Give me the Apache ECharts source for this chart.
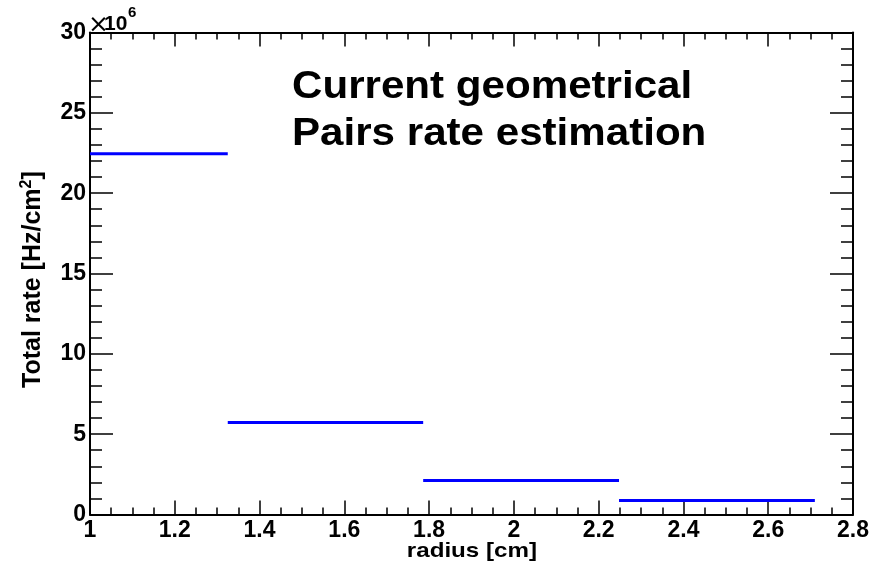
<!DOCTYPE html>
<html>
<head>
<meta charset="utf-8">
<script src="https://cdn.jsdelivr.net/npm/echarts@6/dist/echarts.min.js"></script>
<style>
  html, body { margin: 0; padding: 0; background: #fff; }
  #chart { width: 883px; height: 565px; }
</style>
</head>
<body>
<div id="chart"></div>
<script>
// Histogram bin edges along the radius [cm]
const binEdges = [1, 1.325, 1.786, 2.248, 2.71];
// Total pair rate per bin [Hz/cm^2]
const rates = [22.45e6, 5.72e6, 2.11e6, 0.87e6];
// Axis ranges and tick steps
const xRange = [1, 2.8];
const xStep = 0.2;
const yRange = [0, 30e6];
const yStep = 5e6;
const yScale = 1e6;
const titleLines = ['Current geometrical', 'Pairs rate estimation'];

const FONT = 'Liberation Sans, Arial, Helvetica, sans-serif';

const segments = rates.map((r, i) => [binEdges[i], binEdges[i + 1], r]);

const tickStyle = { color: '#000', width: 1.5 };
const labelStyle = { fontSize: 23, fontWeight: 'bold', color: '#000', fontFamily: FONT };

function xAxisDef(pos, showLabels) {
  return {
    type: 'value', position: pos, min: xRange[0], max: xRange[1], interval: xStep,
    axisLine: { show: true, onZero: false, lineStyle: { color: '#000', width: 2 } },
    axisTick: { show: true, inside: true, length: 14, lineStyle: tickStyle },
    minorTick: { show: true, splitNumber: 4, length: 7, lineStyle: tickStyle },
    splitLine: { show: false },
    axisLabel: Object.assign({ show: showLabels, margin: 5,
      formatter: v => String(Math.round(v * 10) / 10) }, labelStyle)
  };
}
function yAxisDef(pos, showLabels) {
  return {
    type: 'value', position: pos, min: yRange[0], max: yRange[1], interval: yStep,
    axisLine: { show: true, onZero: false, lineStyle: { color: '#000', width: 2 } },
    axisTick: { show: true, inside: true, length: 23, lineStyle: tickStyle },
    minorTick: { show: true, splitNumber: 5, length: 12, lineStyle: tickStyle },
    splitLine: { show: false },
    axisLabel: Object.assign({ show: showLabels, margin: 4,
      formatter: v => String(Math.round(v / yScale)) }, labelStyle)
  };
}

const chart = echarts.init(document.getElementById('chart'), null, { renderer: 'canvas' });
chart.setOption({
  animation: false,
  backgroundColor: '#fff',
  grid: { left: 90, right: 30, top: 32.5, bottom: 50.5 },
  xAxis: [xAxisDef('bottom', true), xAxisDef('top', false)],
  yAxis: [yAxisDef('left', true), yAxisDef('right', false)],
  series: [{
    type: 'custom',
    xAxisIndex: 0, yAxisIndex: 0,
    data: segments,
    encode: { x: [0, 1], y: 2 },
    renderItem: function (params, api) {
      const a = api.coord([api.value(0), api.value(2)]);
      const b = api.coord([api.value(1), api.value(2)]);
      return {
        type: 'line',
        shape: { x1: a[0], y1: a[1], x2: b[0], y2: b[1] },
        style: { stroke: '#0000ff', lineWidth: 3 }
      };
    }
  }],
  graphic: [
    { type: 'text', x: 292, y: 87, scaleX: 1.08,
      style: { text: titleLines[0], fontSize: 39, fontWeight: 'bold', fontFamily: FONT,
        fill: '#000', align: 'left', verticalAlign: 'middle' } },
    { type: 'text', x: 292, y: 134, scaleX: 1.08,
      style: { text: titleLines[1], fontSize: 39, fontWeight: 'bold', fontFamily: FONT,
        fill: '#000', align: 'left', verticalAlign: 'middle' } },
    { type: 'text', x: 537, y: 551, scaleX: 1.15,
      style: { text: 'radius [cm]', fontSize: 21, fontWeight: 'bold', fontFamily: FONT,
        fill: '#000', align: 'right', verticalAlign: 'middle' } },
    { type: 'text', x: 33, y: 388, rotation: Math.PI / 2,
      style: { text: 'Total rate [Hz/cm{s|2}]', fontSize: 25, fontWeight: 'bold', fontFamily: FONT,
        fill: '#000', align: 'left', verticalAlign: 'middle',
        rich: { s: { fontSize: 16, fontWeight: 'bold', fontFamily: FONT, fill: '#000', padding: [0, 0, 12, 0] } } } },
    // exponent of the y axis: ×10^6
    { type: 'text', x: 88, y: 25,
      style: { text: '\u00d7', fontSize: 25, fontWeight: 'normal', fontFamily: 'DejaVu Sans, sans-serif',
        fill: '#000', align: 'left', verticalAlign: 'middle' } },
    { type: 'text', x: 104, y: 24.5,
      style: { text: '10', fontSize: 21, fontWeight: 'bold', fontFamily: FONT,
        fill: '#000', align: 'left', verticalAlign: 'middle' } },
    { type: 'text', x: 128, y: 12.5,
      style: { text: '6', fontSize: 15, fontWeight: 'bold', fontFamily: FONT,
        fill: '#000', align: 'left', verticalAlign: 'middle' } }
  ]
});
</script>
</body>
</html>
